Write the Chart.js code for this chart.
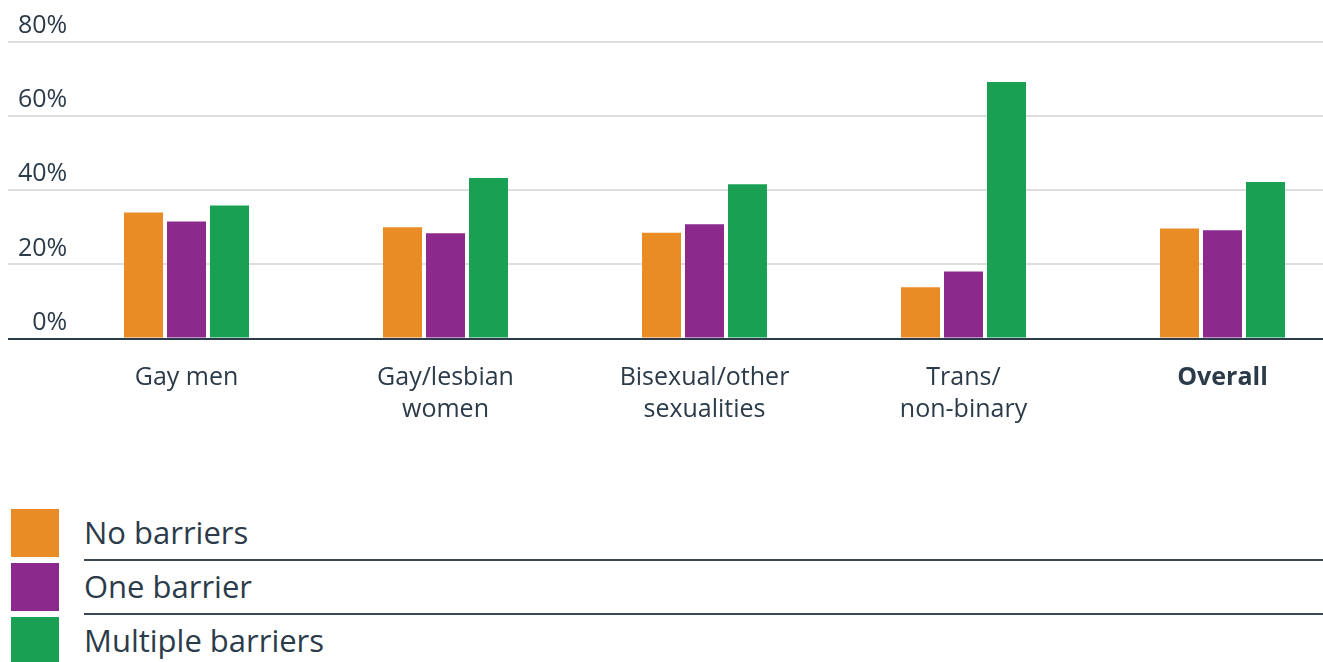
<!DOCTYPE html>
<html>
<head>
<meta charset="utf-8">
<script src="https://cdn.jsdelivr.net/npm/chart.js@4/dist/chart.umd.min.js"></script>
<style>
  body { margin: 0; background: #fff; overflow: hidden; width: 1323px; height: 662px; position: relative; }
  #wrap { position: absolute; left: 0; top: 0; width: 1360px; height: 430px; }
  #legend { position: absolute; left: 0; top: 509px; width: 1323px; font-family: "Open Sans", sans-serif; color: #2c3b49; }
  .row { position: relative; height: 54px; }
  .sw { position: absolute; left: 11px; top: 0; width: 48px; height: 48px; }
  .lb { position: absolute; left: 84px; top: 0; height: 48px; line-height: 46px; font-size: 31px; }
  .sep { position: absolute; left: 84px; right: 0; top: 50px; height: 0; border-top: 2px solid #3a4856; }
</style>
</head>
<body>
<div id="wrap"><canvas id="chart-0"></canvas></div>
<div id="legend"></div>
<script>
var categories = [
    ["Gay men"],
    ["Gay/lesbian", "women"],
    ["Bisexual/other", "sexualities"],
    ["Trans/", "non-binary"],
    ["Overall"]
];
var seriesNames = ["No barriers", "One barrier", "Multiple barriers"];
var seriesColors = ["#e98c25", "#8b2a8c", "#19a053"];
var noBarriers = [34, 30, 28.5, 13.8, 29.7];
var oneBarrier = [31.6, 28.4, 30.8, 18.1, 29.2];
var multipleBarriers = [35.9, 43.3, 41.6, 69.2, 42.2];
var yTicks = [0, 20, 40, 60, 80];

var textColor = "#2c3b49";
var font = "'Open Sans', sans-serif";

var values = [noBarriers, oneBarrier, multipleBarriers];
var datasets = seriesNames.map(function (name, i) {
    return {
        label: name,
        data: values[i],
        backgroundColor: seriesColors[i],
        borderWidth: 0,
        barPercentage: 0.907,
        categoryPercentage: 0.498
    };
});

// legend rows with separators
var legend = document.getElementById("legend");
seriesNames.forEach(function (name, i) {
    var row = document.createElement("div");
    row.className = "row";
    row.innerHTML = '<div class="sw" style="background:' + seriesColors[i] + '"></div>' +
        '<div class="lb">' + name + '</div>' +
        (i < seriesNames.length - 1 ? '<div class="sep"></div>' : '');
    legend.appendChild(row);
});

window.onload = function () {
    var ctx = document.getElementById("chart-0").getContext("2d");
    new Chart(ctx, {
        type: 'bar',
        data: { labels: categories, datasets: datasets },
        options: {
            responsive: true,
            maintainAspectRatio: false,
            animation: false,
            layout: { padding: { top: 42, right: 8, left: 0, bottom: 0 } },
            plugins: { legend: { display: false }, tooltip: { enabled: false } },
            scales: {
                x: {
                    grid: { display: false, drawTicks: false },
                    border: { display: false },
                    ticks: {
                        color: textColor,
                        padding: 24,
                        maxRotation: 0,
                        autoSkip: false,
                        font: function (c) {
                            return { family: font, size: 25, lineHeight: 1.25, weight: c.index === 4 ? 'bold' : 'normal' };
                        }
                    },
                    afterFit: function (s) { s.height = 91.5; }
                },
                y: {
                    min: 0,
                    max: 80,
                    afterBuildTicks: function (s) {
                        s.ticks = yTicks.map(function (v) { return { value: v }; });
                    },
                    grid: {
                        drawTicks: true,
                        tickLength: 49,
                        color: function (c) { return c.tick && c.tick.value === 0 ? '#2c3b49' : '#dedede'; },
                        lineWidth: 2
                    },
                    border: { display: false },
                    ticks: {
                        color: textColor,
                        mirror: true,
                        padding: -39,
                        labelOffset: -16,
                        font: { family: font, size: 25 },
                        // figure space keeps the single-digit label right aligned
                        callback: function (v) { return (v < 10 ? '\u2007' : '') + v + '%'; }
                    },
                    afterFit: function (s) { s.width = 57; }
                }
            }
        }
    });
};
</script>
</body>
</html>
